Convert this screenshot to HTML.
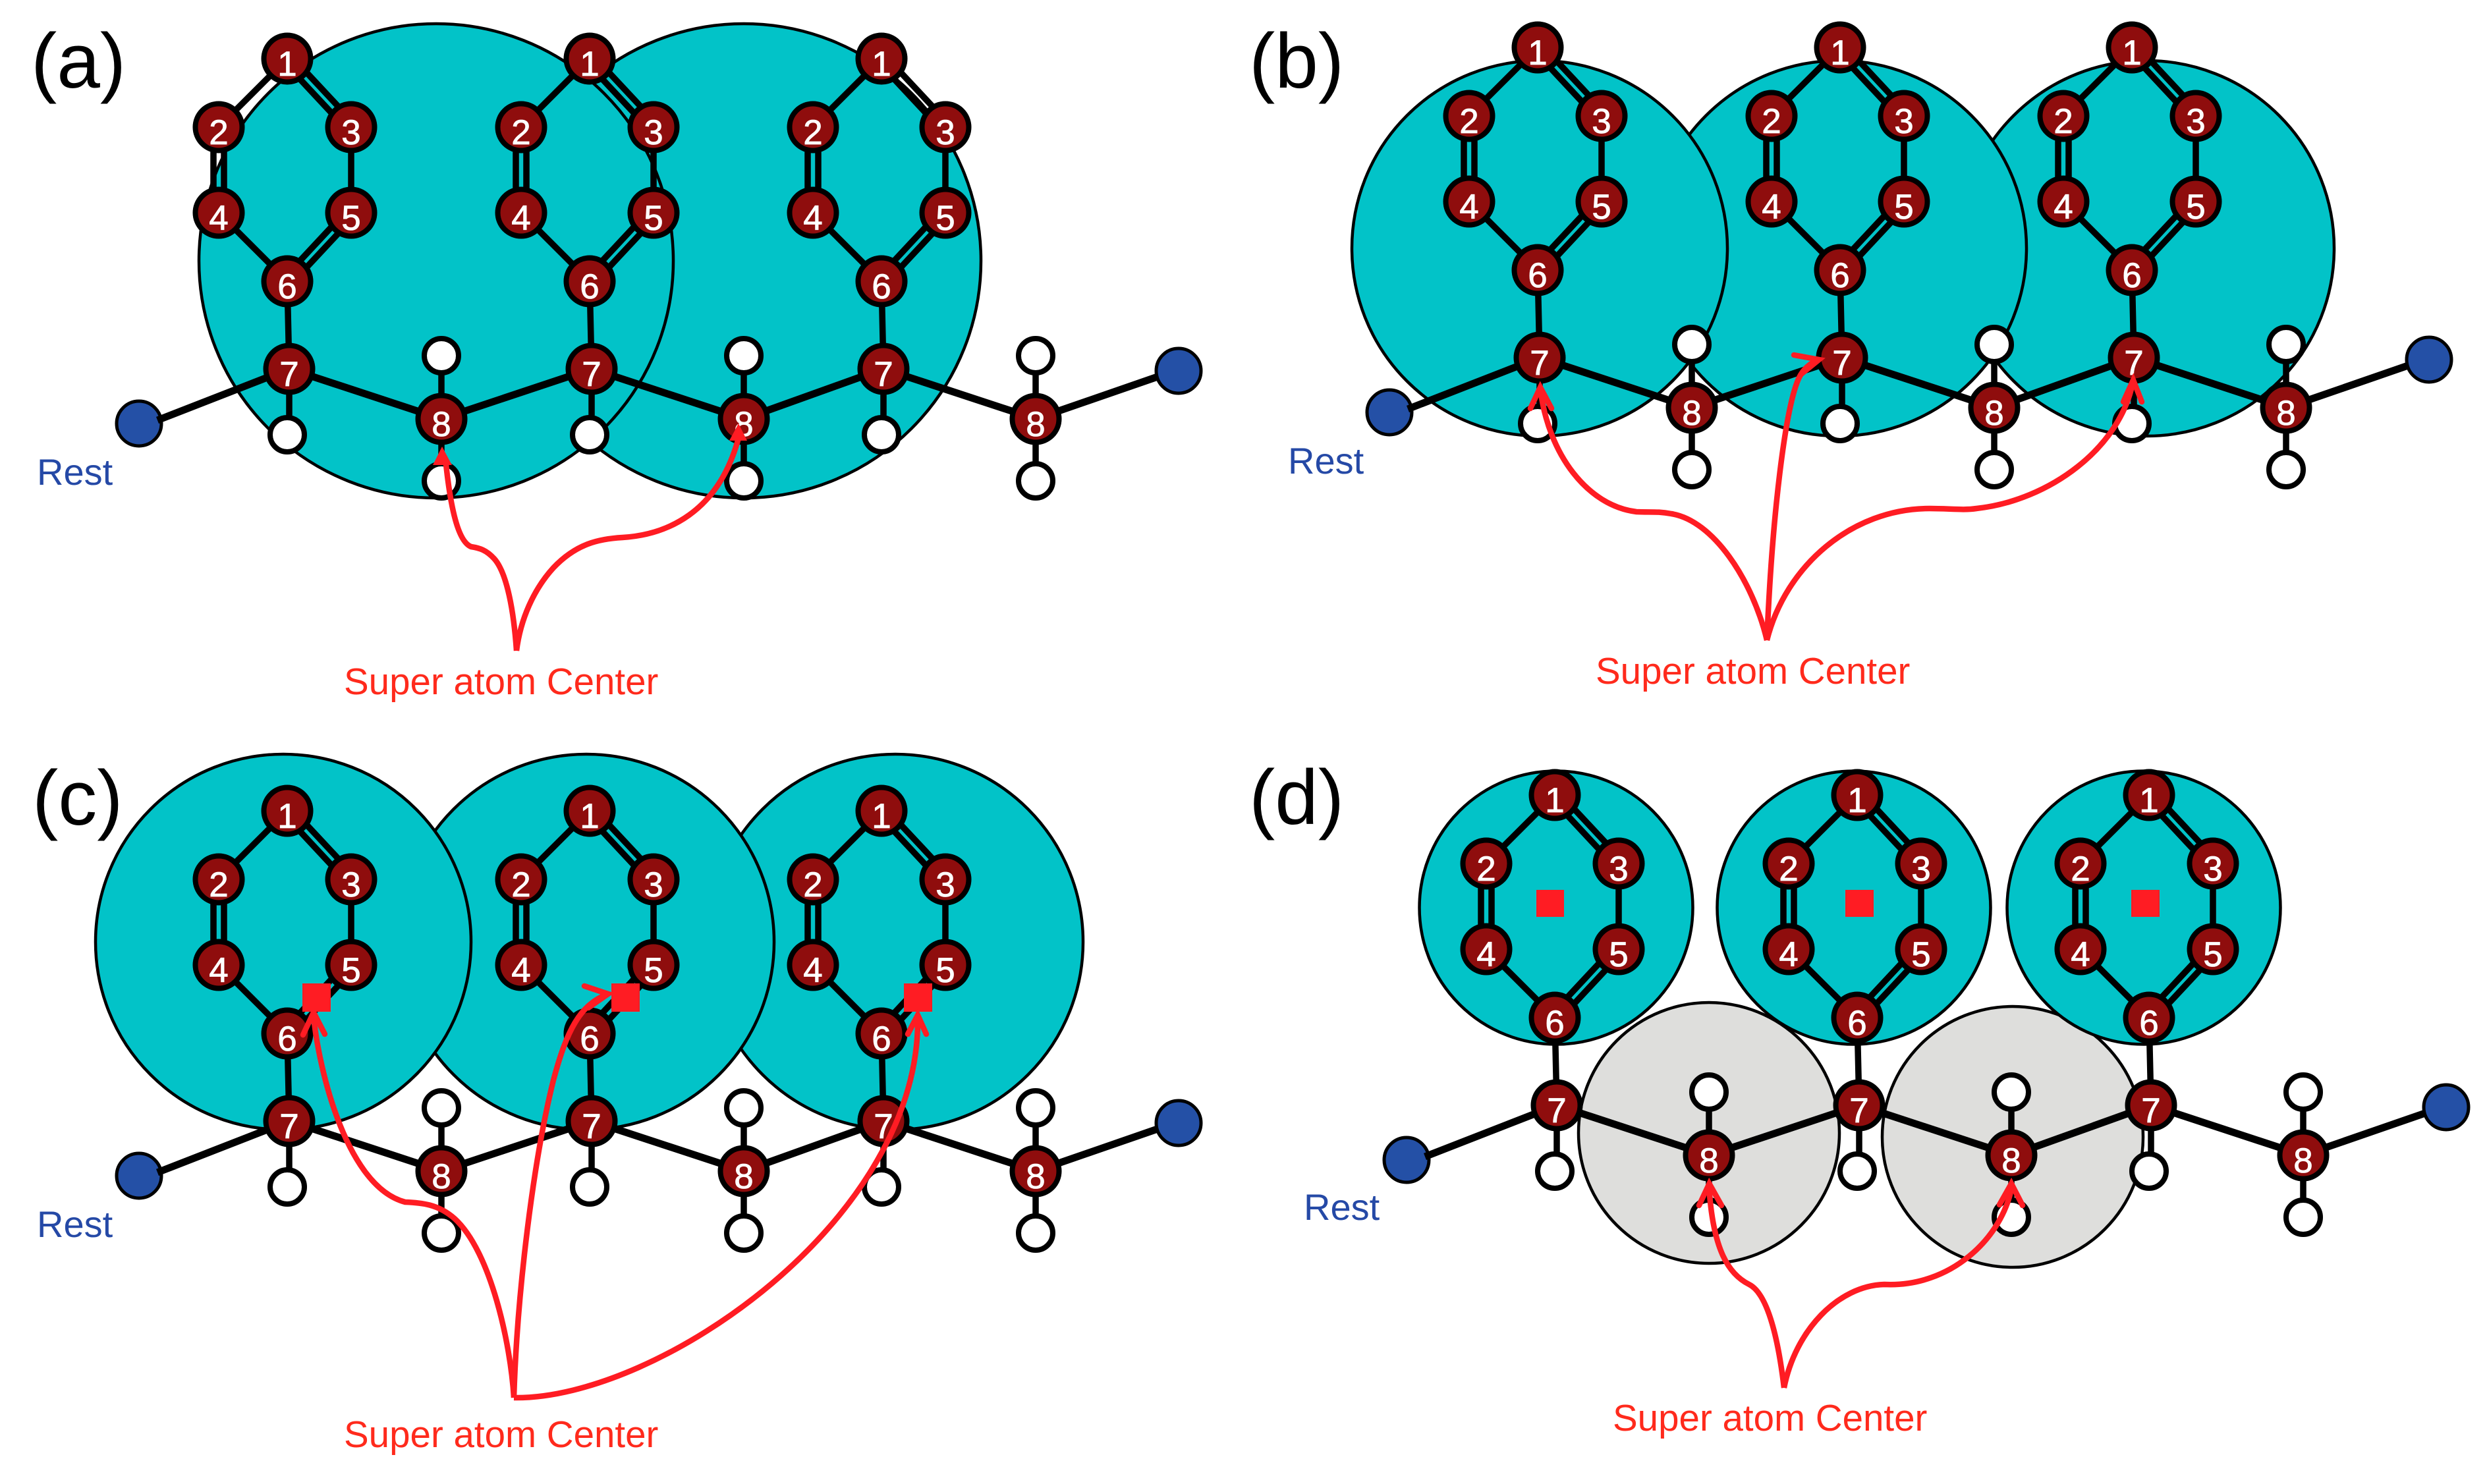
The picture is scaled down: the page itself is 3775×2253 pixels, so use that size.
<!DOCTYPE html>
<html lang="en">
<head>
<meta charset="utf-8">
<title>Super atom diagrams</title>
<style>
html,body{margin:0;padding:0;background:#fff}
svg{display:block}
text{font-family:"Liberation Sans",Arial,sans-serif}
.d{font-size:53px;fill:#fff;stroke:#fff;stroke-width:.8;text-anchor:middle}
.p{font-size:118px;fill:#000}
.r{font-size:56px;fill:#2549a6}
.s{font-size:56.5px;fill:#ff2a1c}
.c{fill:#02c3c8;stroke:#000;stroke-width:4.5}
.g{fill:#dededc;stroke:#000;stroke-width:4.5}
.b{stroke:#000;stroke-width:9.5;fill:none}
.bb{stroke:#000;stroke-width:11;fill:none}
.a{fill:#8f0d0d;stroke:#000;stroke-width:8}
.h{fill:#fff;stroke:#000;stroke-width:8}
.e{fill:#2450a6;stroke:#000;stroke-width:5}
.q{fill:#ff1c23}
.l{fill:none;stroke:#ff1c23;stroke-width:8.5}
.w{fill:none;stroke:#ff1c23;stroke-width:8.5;stroke-linecap:round;stroke-linejoin:miter}
</style>
</head>
<body>
<svg xmlns="http://www.w3.org/2000/svg" width="3775" height="2253" viewBox="0 0 3775 2253">
<defs>
<g id="ring">
<path class="b" d="M0 89L-104 193M-112 193V323M-96 193V323M-104 323L0 427M5 84L102 188M-5 94L92 198M97 193V323M92 318L-5 422M102 328L5 432M0 427L3 560M3 560V660"/>
<circle class="h" cx="0" cy="660" r="26"/>
<circle class="a" cx="0" cy="89" r="35.500"/>
<circle class="a" cx="-104" cy="193" r="35.500"/>
<circle class="a" cx="97" cy="193" r="35.500"/>
<circle class="a" cx="-104" cy="323" r="35.500"/>
<circle class="a" cx="97" cy="323" r="35.500"/>
<circle class="a" cx="0" cy="427" r="35.500"/>
<circle class="a" cx="3" cy="560" r="35.500"/>
</g>
<g id="eight">
<path class="b" d="M0 540V730"/>
<circle class="h" cx="0" cy="540" r="26"/>
<circle class="h" cx="0" cy="730" r="26"/>
<circle class="a" cx="0" cy="636" r="35.500"/>
</g>
<g id="mol">
<circle class="e" cx="211" cy="643" r="34"/>
<circle class="e" cx="1789" cy="563" r="34"/>
<path class="bb" d="M239 638L439 560L670 636L898 560L1129 636L1341 560L1572 636L1757 572"/>
<use href="#ring" x="436"/>
<use href="#ring" x="895"/>
<use href="#ring" x="1338"/>
<use href="#eight" x="670"/>
<use href="#eight" x="1129"/>
<use href="#eight" x="1572"/>
</g>
</defs>
<rect width="3775" height="2253" fill="#fff"/>

<!-- (a) -->
<circle class="c" cx="1129" cy="396" r="360"/>
<circle class="c" cx="662" cy="396" r="360"/>
<use href="#mol"/>
<g>
<text class="d" x="436" y="115">1</text><text class="d" x="332" y="219">2</text><text class="d" x="533" y="219">3</text><text class="d" x="332" y="349">4</text><text class="d" x="533" y="349">5</text><text class="d" x="436" y="453">6</text><text class="d" x="439" y="586">7</text><text class="d" x="670" y="662">8</text>
<text class="d" x="895" y="115">1</text><text class="d" x="791" y="219">2</text><text class="d" x="992" y="219">3</text><text class="d" x="791" y="349">4</text><text class="d" x="992" y="349">5</text><text class="d" x="895" y="453">6</text><text class="d" x="898" y="586">7</text><text class="d" x="1129" y="662">8</text>
<text class="d" x="1338" y="115">1</text><text class="d" x="1234" y="219">2</text><text class="d" x="1435" y="219">3</text><text class="d" x="1234" y="349">4</text><text class="d" x="1435" y="349">5</text><text class="d" x="1338" y="453">6</text><text class="d" x="1341" y="586">7</text><text class="d" x="1572" y="662">8</text>
</g>
<path class="l" d="M784 988C780 930 770 870 750 848C738 835 728 832 715 830C695 822 684 770 677 705"/>
<path class="l" d="M784 988C790 940 810 895 840 862C875 825 910 818 945 816C1010 812 1090 780 1121 665"/>
<polygon class="q" points="671,678 657,706 686,706"/>
<polygon class="q" points="1121,643 1107,669 1134,669"/>
<text class="p" x="47" y="133">(a)</text>
<text class="r" x="56" y="736">Rest</text>
<text class="s" x="522" y="1054">Super atom Center</text>

<!-- (b) -->
<circle class="c" cx="3258" cy="377" r="285"/>
<circle class="c" cx="2791" cy="377" r="285"/>
<circle class="c" cx="2337" cy="377" r="285"/>
<use href="#mol" x="1898" y="-17"/>
<g transform="translate(1898 -17)">
<text class="d" x="436" y="115">1</text><text class="d" x="332" y="219">2</text><text class="d" x="533" y="219">3</text><text class="d" x="332" y="349">4</text><text class="d" x="533" y="349">5</text><text class="d" x="436" y="453">6</text><text class="d" x="439" y="586">7</text><text class="d" x="670" y="662">8</text>
<text class="d" x="895" y="115">1</text><text class="d" x="791" y="219">2</text><text class="d" x="992" y="219">3</text><text class="d" x="791" y="349">4</text><text class="d" x="992" y="349">5</text><text class="d" x="895" y="453">6</text><text class="d" x="898" y="586">7</text><text class="d" x="1129" y="662">8</text>
<text class="d" x="1338" y="115">1</text><text class="d" x="1234" y="219">2</text><text class="d" x="1435" y="219">3</text><text class="d" x="1234" y="349">4</text><text class="d" x="1435" y="349">5</text><text class="d" x="1338" y="453">6</text><text class="d" x="1341" y="586">7</text><text class="d" x="1572" y="662">8</text>
</g>
<path class="l" d="M2682 972C2660 880 2600 790 2537 780C2515 776 2505 778 2484 777C2410 768 2350 690 2338 590"/>
<path class="l" d="M2682 972C2690 780 2710 620 2730 575C2738 558 2750 550 2761 546"/>
<path class="l" d="M2682 972C2710 860 2810 772 2929 772C2960 772 2980 775 3000 772C3110 760 3220 680 3238 577"/>
<path class="w" d="M2323 620L2338 588L2355 620"/>
<path class="w" d="M2723 539L2761 546L2734 568"/>
<path class="w" d="M3223 610L3238 577L3251 610"/>
<text class="p" x="1896" y="133">(b)</text>
<text class="r" x="1955" y="719">Rest</text>
<text class="s" x="2422" y="1038">Super atom Center</text>

<!-- (c) -->
<circle class="c" cx="1359" cy="1430" r="285"/>
<circle class="c" cx="890" cy="1430" r="285"/>
<circle class="c" cx="430" cy="1430" r="285"/>
<use href="#mol" y="1142"/>
<g transform="translate(0 1142)">
<text class="d" x="436" y="115">1</text><text class="d" x="332" y="219">2</text><text class="d" x="533" y="219">3</text><text class="d" x="332" y="349">4</text><text class="d" x="533" y="349">5</text><text class="d" x="436" y="453">6</text><text class="d" x="439" y="586">7</text><text class="d" x="670" y="662">8</text>
<text class="d" x="895" y="115">1</text><text class="d" x="791" y="219">2</text><text class="d" x="992" y="219">3</text><text class="d" x="791" y="349">4</text><text class="d" x="992" y="349">5</text><text class="d" x="895" y="453">6</text><text class="d" x="898" y="586">7</text><text class="d" x="1129" y="662">8</text>
<text class="d" x="1338" y="115">1</text><text class="d" x="1234" y="219">2</text><text class="d" x="1435" y="219">3</text><text class="d" x="1234" y="349">4</text><text class="d" x="1435" y="349">5</text><text class="d" x="1338" y="453">6</text><text class="d" x="1341" y="586">7</text><text class="d" x="1572" y="662">8</text>
</g>
<rect class="q" x="459" y="1493" width="43" height="43"/>
<rect class="q" x="928" y="1493" width="43" height="43"/>
<rect class="q" x="1372" y="1493" width="43" height="43"/>
<path class="l" d="M780 2122C775 2040 745 1900 690 1850C665 1828 640 1826 615 1825C520 1800 480 1600 476 1540"/>
<path class="l" d="M780 2122C785 1960 810 1760 840 1640C860 1565 880 1525 923 1509"/>
<path class="l" d="M780 2122C1000 2125 1400 1850 1393 1541"/>
<path class="w" d="M1378 1570L1393 1541L1406 1570"/>
<path class="w" d="M460 1571L476 1537L493 1570"/>
<path class="w" d="M887 1497L923 1509L893 1530"/>
<text class="p" x="49" y="1252">(c)</text>
<text class="r" x="56" y="1878">Rest</text>
<text class="s" x="522" y="2197">Super atom Center</text>

<!-- (d) -->
<circle class="g" cx="2594" cy="1720" r="198"/>
<circle class="g" cx="3055" cy="1726" r="198"/>
<circle class="c" cx="2362" cy="1378" r="207.5"/>
<circle class="c" cx="2814" cy="1378" r="207.5"/>
<circle class="c" cx="3254" cy="1378" r="207.5"/>
<use href="#mol" x="1924" y="1118"/>
<g transform="translate(1924 1118)">
<text class="d" x="436" y="115">1</text><text class="d" x="332" y="219">2</text><text class="d" x="533" y="219">3</text><text class="d" x="332" y="349">4</text><text class="d" x="533" y="349">5</text><text class="d" x="436" y="453">6</text><text class="d" x="439" y="586">7</text><text class="d" x="670" y="662">8</text>
<text class="d" x="895" y="115">1</text><text class="d" x="791" y="219">2</text><text class="d" x="992" y="219">3</text><text class="d" x="791" y="349">4</text><text class="d" x="992" y="349">5</text><text class="d" x="895" y="453">6</text><text class="d" x="898" y="586">7</text><text class="d" x="1129" y="662">8</text>
<text class="d" x="1338" y="115">1</text><text class="d" x="1234" y="219">2</text><text class="d" x="1435" y="219">3</text><text class="d" x="1234" y="349">4</text><text class="d" x="1435" y="349">5</text><text class="d" x="1338" y="453">6</text><text class="d" x="1341" y="586">7</text><text class="d" x="1572" y="662">8</text>
</g>
<rect class="q" x="2332" y="1351" width="42" height="41"/>
<rect class="q" x="2801" y="1351" width="43" height="41"/>
<rect class="q" x="3235" y="1351" width="43" height="41"/>
<path class="l" d="M2708 2107C2700 2040 2685 1965 2655 1950C2625 1935 2600 1900 2594 1800"/>
<path class="l" d="M2708 2107C2725 2020 2790 1952 2860 1950C2960 1955 3040 1880 3054 1800"/>
<path class="w" d="M2579 1830L2594.500 1797L2613 1830"/>
<path class="w" d="M3035 1829L3053 1797L3070 1830"/>
<text class="p" x="1896" y="1251">(d)</text>
<text class="r" x="1979" y="1852">Rest</text>
<text class="s" x="2448" y="2172">Super atom Center</text>
</svg>
</body>
</html>
